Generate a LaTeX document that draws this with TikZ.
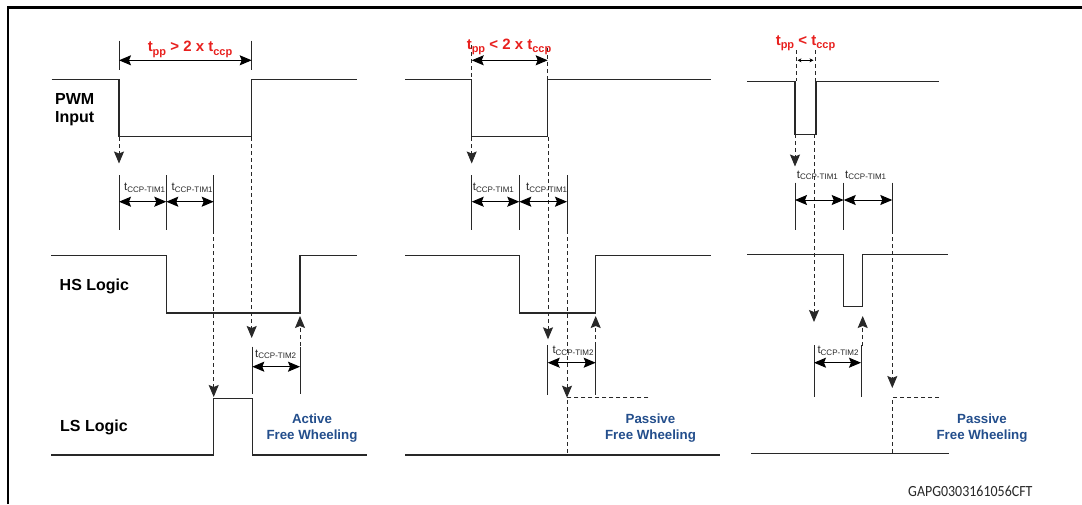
\documentclass[tikz,border=0pt]{standalone}
\usepackage{fontspec}
\setmainfont{Liberation Sans}
\newfontfamily\gapfont{Carlito}
\usetikzlibrary{arrows.meta}
\definecolor{tred}{RGB}{232,32,30}
\definecolor{tblue}{RGB}{35,78,140}
\definecolor{ink}{RGB}{40,40,40}
\newcommand\tccpl[1]{{\fontsize{11.5}{12}\selectfont t}{\fontsize{8}{8}\selectfont\raisebox{-1.6pt}{CCP-TIM#1}}}
\newcommand\tsub[1]{\raisebox{-3.5pt}{\fontsize{11}{11}\selectfont #1}}
\tikzset{
  sig/.style={line width=1.1pt, draw=ink},
  ext/.style={line width=0.9pt, draw=ink},
  dsh/.style={line width=0.9pt, draw=ink, dash pattern=on 4pt off 3pt},
  arr/.style={-{Stealth[length=12pt,width=10pt,inset=2pt]}},
  dimarr/.style={line width=1pt, draw=black, {Stealth[length=12pt,width=10pt,inset=2pt]}-{Stealth[length=12pt,width=10pt,inset=2pt]}},
  smalldim/.style={line width=0.7pt, draw=black, {Stealth[length=4pt,width=4pt]}-{Stealth[length=4pt,width=4pt]}},
  rowlab/.style={font=\fontsize{16}{18}\selectfont\bfseries, anchor=base west, inner sep=0pt, text=black},
  redlab/.style={font=\fontsize{15}{16}\selectfont\bfseries, text=tred, anchor=base, inner sep=0pt},
  tlab/.style={anchor=base west, inner sep=0pt, text=ink},
  bluelab/.style={font=\fontsize{13.3}{16}\selectfont\bfseries, text=tblue, anchor=base, inner sep=0pt}
}
\begin{document}
\begin{tikzpicture}[x=1pt,y=-1pt]
\useasboundingbox (0,0) rectangle (1082,504);
\fill[white] (0,0) rectangle (1082,504);
% frame
\draw[line width=2.6pt, black] (8,504) -- (8,7.5) -- (1082,7.5);

% row labels
\node[rowlab] (pwm) at (55,104) {PWM};
\node[rowlab] (inp) at (55,122) {Input};
\node[rowlab] (hs) at (59.5,290) {HS Logic};
\node[rowlab] (ls) at (60,431) {LS Logic};

%================ Panel 1 =================
\draw[sig] (51.7,79.3) -- (119,79.3) -- (119,136.7) -- (251.7,136.7) -- (251.7,79.3) -- (357,79.3);
\coordinate (a1) at (119,40.7); \coordinate (a1b) at (119,70);
\coordinate (b1) at (251.7,40.7); \coordinate (b1b) at (251.7,70);
\draw[ext] (a1) -- (a1b);
\draw[ext] (b1) -- (b1b);
\draw[dimarr] (119,60.3) -- (251.7,60.3);
\node[redlab] (r1) at (190,51.7) {t\tsub{pp} > 2 x t\tsub{ccp}};
\coordinate (p1s) at (119,137); \coordinate (p1e) at (119,163.5);
\draw[dsh,arr] (p1s) -- (p1e);
\coordinate (q1s) at (251.7,137); \coordinate (q1e) at (251.7,338);
\draw[dsh,arr] (q1s) -- (q1e);
\foreach \x in {119,166.3,213.7} \draw[ext] (\x,175) -- (\x,230);
\draw[dimarr] (119,201.7) -- (166.3,201.7);
\draw[dimarr] (166.3,201.7) -- (213.7,201.7);
\node[tlab] (t11) at (124,190.5) {\tccpl{1}};
\node[tlab] (t12) at (171.5,190.5) {\tccpl{1}};
\coordinate (s1s) at (213.7,230); \coordinate (s1e) at (213.7,397);
\draw[dsh,arr] (s1s) -- (s1e);
\draw[sig] (51,255.7) -- (166.3,255.7) -- (166.3,313) -- (300,313) -- (300,255.7) -- (357,255.7);
\coordinate (u1s) at (300,346); \coordinate (u1e) at (300,316);
\draw[dsh,arr] (u1s) -- (u1e);
\draw[ext] (252.3,346.7) -- (252.3,394.3);
\draw[ext] (300,346.7) -- (300,394.3);
\draw[dimarr] (252.3,366.7) -- (300,366.7);
\node[tlab] (t13) at (255,357) {\tccpl{2}};
\draw[sig] (51,455) -- (213.7,455) -- (213.7,398.3) -- (252.3,398.3) -- (252.3,455) -- (366.7,455);
\node[bluelab] (act1) at (312,423.3) {Active};
\node[bluelab] (act2) at (312,439.3) {Free Wheeling};

%================ Panel 2 =================
\draw[sig] (405,79.3) -- (471.7,79.3) -- (471.7,136.7) -- (547.7,136.7) -- (547.7,79.3) -- (710.7,79.3);
\draw[dsh] (471.7,45) -- (471.7,79);
\draw[dsh] (547.7,48) -- (547.7,79);
\draw[dimarr] (471.7,60.3) -- (547.7,60.3);
\node[redlab] (r2) at (509,49.3) {t\tsub{pp} < 2 x t\tsub{ccp}};
\coordinate (p2s) at (471.7,137); \coordinate (p2e) at (471.7,163.5);
\draw[dsh,arr] (p2s) -- (p2e);
\coordinate (q2s) at (548,137); \coordinate (q2e) at (548,339.3);
\draw[dsh,arr] (q2s) -- (q2e);
\foreach \x in {471.7,519.3,567} \draw[ext] (\x,175) -- (\x,230);
\draw[dimarr] (471.7,201.7) -- (519.3,201.7);
\draw[dimarr] (519.3,201.7) -- (567,201.7);
\node[tlab] (t21) at (472.7,190.5) {\tccpl{1}};
\node[tlab] (t22) at (526,190.5) {\tccpl{1}};
\coordinate (s2s) at (567,230); \coordinate (s2e) at (567,397.7);
\draw[dsh,arr] (s2s) -- (s2e);
\draw[dsh] (648.3,397.7) -- (567,397.7) -- (567,455);
\draw[sig] (405,255.7) -- (519.3,255.7) -- (519.3,313) -- (595.7,313) -- (595.7,255.7) -- (710.7,255.7);
\coordinate (u2s) at (595.7,346); \coordinate (u2e) at (595.7,316);
\draw[dsh,arr] (u2s) -- (u2e);
\draw[ext] (547.7,345) -- (547.7,395);
\draw[ext] (595.7,345) -- (595.7,395);
\draw[dimarr] (547.7,362.7) -- (595.7,362.7);
\node[tlab] (t23) at (552.3,353.5) {\tccpl{2}};
\draw[sig] (405,455) -- (720,455);
\node[bluelab] (pas1) at (650.5,423.3) {Passive};
\node[bluelab] (pas2) at (650.5,439.3) {Free Wheeling};

%================ Panel 3 =================
\draw[sig] (747.3,81.7) -- (795,81.7) -- (795,134.3) -- (816,134.3) -- (816,81.7) -- (939,81.7);
\draw[dsh] (796,50) -- (796,81);
\draw[dsh] (815,50) -- (815,81);
\draw[smalldim] (797.5,60.3) -- (813.5,60.3);
\node[redlab] (r3) at (805.5,45) {t\tsub{pp} < t\tsub{ccp}};
\coordinate (p3s) at (795,134.3); \coordinate (p3e) at (795,166.5);
\draw[dsh,arr] (p3s) -- (p3e);
\coordinate (q3s) at (814,134.3); \coordinate (q3e) at (814,322);
\draw[dsh,arr] (q3s) -- (q3e);
\foreach \x in {795,843.7,892.3} \draw[ext] (\x,182.7) -- (\x,230);
\draw[dimarr] (795,200) -- (843.7,200);
\draw[dimarr] (843.7,200) -- (892.3,200);
\node[tlab] (t31) at (796.7,178) {\tccpl{1}};
\node[tlab] (t32) at (845,178) {\tccpl{1}};
\coordinate (s3s) at (892.3,230); \coordinate (s3e) at (892.3,388);
\draw[dsh,arr] (s3s) -- (s3e);
\draw[dsh] (939,397.7) -- (892.3,397.7) -- (892.3,453.7);
\draw[sig] (747.3,254.7) -- (843.7,254.7) -- (843.7,306.3) -- (862.3,306.3) -- (862.3,254.7) -- (948.3,254.7);
\coordinate (u3s) at (862.7,346); \coordinate (u3e) at (862.7,316);
\draw[dsh,arr] (u3s) -- (u3e);
\draw[ext] (814,345) -- (814,396.7);
\draw[ext] (861,345) -- (861,396.7);
\draw[dimarr] (814,362.7) -- (861,362.7);
\node[tlab] (t33) at (817.3,353.5) {\tccpl{2}};
\draw[sig] (751,453.7) -- (949.3,453.7);
\node[bluelab] (pas3) at (982,423.3) {Passive};
\node[bluelab] (pas4) at (982,439.3) {Free Wheeling};

% reference code
\node[anchor=base west, inner sep=0pt, text=ink] (gap) at (908,496) {\scalebox{0.9}[1]{\gapfont\fontsize{15.5}{16}\selectfont GAPG0303161056CFT}};
\end{tikzpicture}
\end{document}
